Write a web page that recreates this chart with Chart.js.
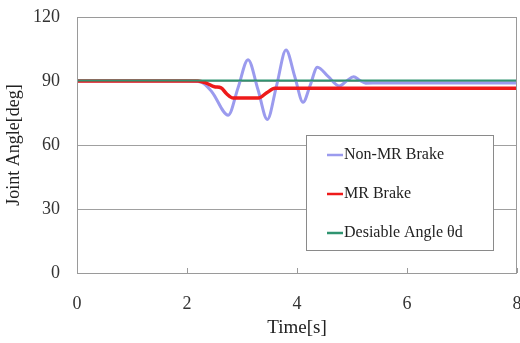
<!DOCTYPE html>
<html>
<head>
<meta charset="utf-8">
<script src="https://cdn.jsdelivr.net/npm/chart.js@4/dist/chart.umd.min.js"></script>
<style>
  html, body { margin: 0; padding: 0; background: #fff; overflow: hidden; }
  canvas { display: block; }
</style>
</head>
<body>
<canvas id="angleChart" width="526" height="343"></canvas>
<script>
// time [s] and joint angle [deg]
const nonMrTime = [0, 1, 2.0, 2.25, 2.45, 2.75, 2.93, 3.11, 3.29, 3.46, 3.63, 3.80, 3.96, 4.11, 4.24, 4.37, 4.57, 4.77, 4.90, 5.03, 5.14, 5.25, 5.5, 6, 7, 8]
const nonMrAngle = [90, 90, 90, 89.5, 85, 74, 87, 100, 86, 72, 88, 104.5, 92, 80, 88, 96.5, 92, 87.7, 90, 92, 90.3, 89, 89.1, 89.1, 89.1, 89.1]

const mrTime = [0, 1, 2.2, 2.35, 2.5, 2.62, 2.72, 2.84, 3.30, 3.45, 3.60, 5, 8]
const mrAngle = [90, 90, 90, 89, 87.3, 86.8, 84, 82, 82, 84.5, 86.6, 86.6, 86.6]

const refTime = [0, 2, 4, 6, 8]
const refAngle = [90.2, 90.2, 90.2, 90.2, 90.2]

const xTicks = [0, 2, 4, 6, 8]
const yTicks = [0, 30, 60, 90, 120]

function toPoints(xs, ys) {
    return xs.map((x, i) => ({ x: x, y: ys[i] }))
}

const serif = "'Liberation Serif', 'Times New Roman', serif"

// plot frame, inward x ticks and the boxed legend
const framePlugin = {
    id: 'frame',
    afterDatasetsDraw(chart) {
        const ctx = chart.ctx
        const a = chart.chartArea
        const xs = chart.scales.x
        ctx.save()
        ctx.strokeStyle = '#9a9a9a'
        ctx.lineWidth = 1
        ctx.strokeRect(a.left + 0.5, a.top + 0.5, a.right - a.left - 1, a.bottom - a.top)
        xTicks.forEach(t => {
            const px = Math.round(xs.getPixelForValue(t)) + 0.5
            ctx.beginPath()
            ctx.moveTo(px, a.bottom)
            ctx.lineTo(px, a.bottom - 5)
            ctx.stroke()
        })

        // legend
        const lx = a.left + 229, ly = a.top + 118, lw = 187, lh = 115
        ctx.fillStyle = '#fff'
        ctx.fillRect(lx, ly, lw, lh)
        ctx.strokeStyle = '#8a8a8a'
        ctx.strokeRect(lx + 0.5, ly + 0.5, lw, lh)
        ctx.font = '16px ' + serif
        ctx.textBaseline = 'middle'
        ctx.fillStyle = '#222'
        chart.data.datasets.forEach((ds, i) => {
            const cy = ly + 20 + i * 39
            ctx.strokeStyle = ds.borderColor
            ctx.lineWidth = 2.5
            ctx.beginPath()
            ctx.moveTo(lx + 21, cy)
            ctx.lineTo(lx + 37, cy)
            ctx.stroke()
            ctx.fillText(ds.label, lx + 38, cy)
        })
        ctx.restore()
    }
}

new Chart(document.getElementById('angleChart'), {
    type: 'line',
    data: {
        datasets: [
            {
                label: 'Non-MR Brake',
                data: toPoints(nonMrTime, nonMrAngle),
                borderColor: '#9b9bee',
                borderWidth: 3,
                cubicInterpolationMode: 'monotone',
                order: 3
            },
            {
                label: 'MR Brake',
                data: toPoints(mrTime, mrAngle),
                borderColor: '#ee1a1a',
                borderWidth: 3.5,
                cubicInterpolationMode: 'monotone',
                order: 2
            },
            {
                label: 'Desiable Angle θd',
                data: toPoints(refTime, refAngle),
                borderColor: '#2f9470',
                borderWidth: 2,
                order: 1
            }
        ]
    },
    options: {
        responsive: false,
        animation: false,
        elements: { point: { radius: 0 } },
        layout: { padding: { top: 17, right: 9, left: 0, bottom: 0 } },
        plugins: {
            legend: { display: false },
            tooltip: { enabled: false }
        },
        scales: {
            x: {
                type: 'linear',
                min: 0,
                max: 8,
                afterBuildTicks: s => { s.ticks = xTicks.map(v => ({ value: v })) },
                grid: { display: false },
                border: { display: false },
                ticks: {
                    color: '#333',
                    font: { family: serif, size: 18 },
                    padding: 12,
                    maxRotation: 0
                },
                title: {
                    display: true,
                    text: 'Time[s]',
                    color: '#222',
                    font: { family: serif, size: 19 },
                    padding: { top: 0, bottom: 4 }
                },
                afterFit: s => {
                    s.height = 70
                    s.paddingLeft = 0
                    s.paddingRight = 0
                }
            },
            y: {
                min: 0,
                max: 120,
                afterBuildTicks: s => { s.ticks = yTicks.map(v => ({ value: v })) },
                grid: { color: '#a0a0a0', drawTicks: false },
                border: { display: false },
                ticks: {
                    color: '#333',
                    font: { family: serif, size: 18 },
                    padding: 17
                },
                title: {
                    display: true,
                    text: 'Joint Angle[deg]',
                    color: '#222',
                    font: { family: serif, size: 18 },
                    padding: { top: 3, bottom: 4 }
                },
                afterFit: s => {
                    s.width = 77
                    s.paddingTop = 0
                    s.paddingBottom = 0
                }
            }
        }
    },
    plugins: [framePlugin]
})
</script>
</body>
</html>
